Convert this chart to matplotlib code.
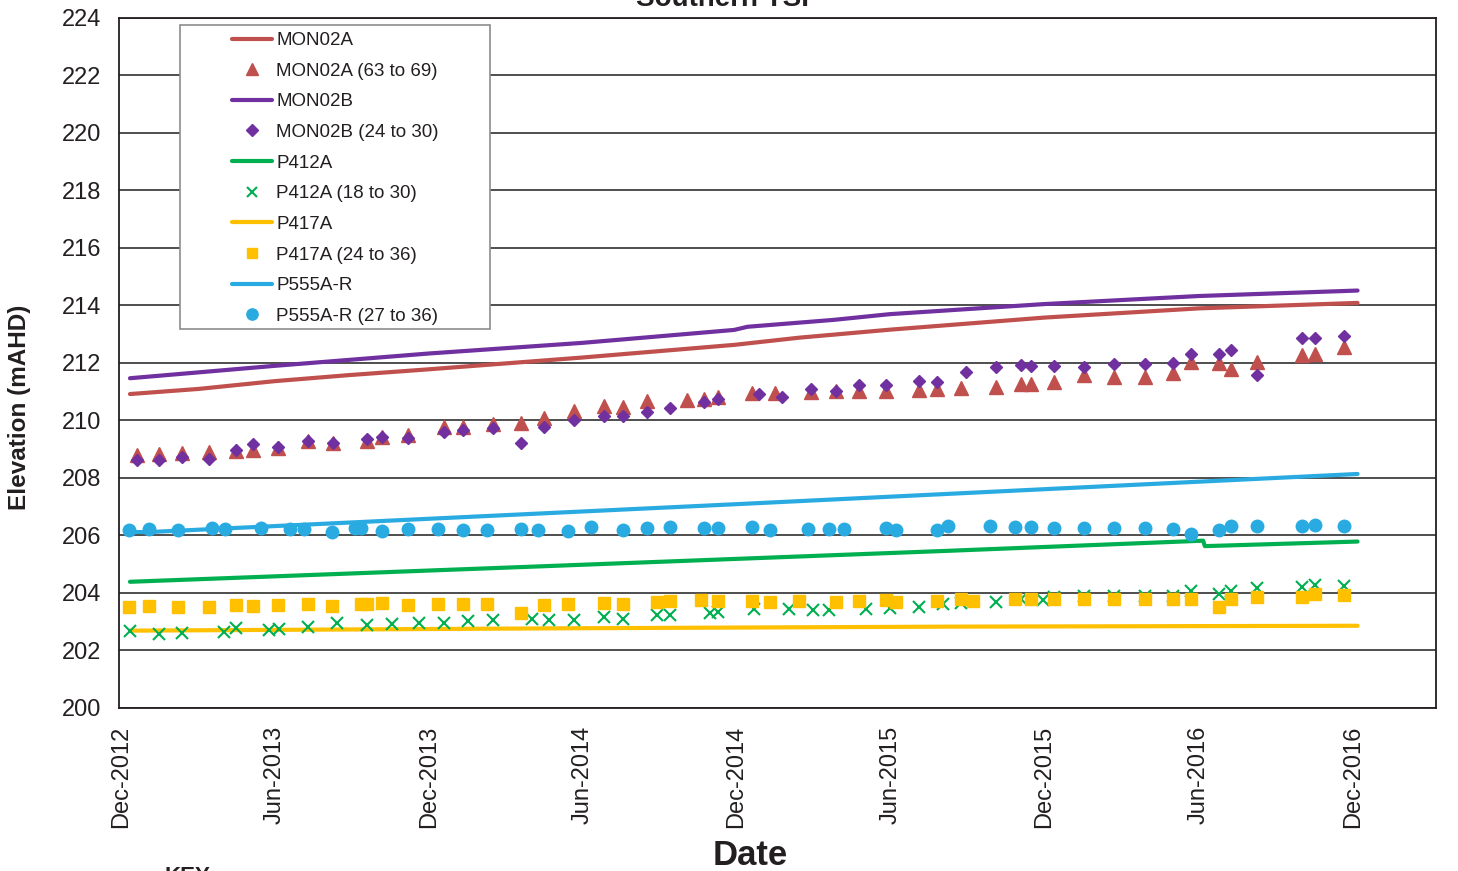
import matplotlib
matplotlib.use("Agg")
import matplotlib.pyplot as plt
import matplotlib.dates as mdates
from matplotlib.patches import Rectangle
import pandas as pd

plt.rcParams["font.family"] = ["Liberation Sans", "DejaVu Sans"]

# ── modelled lines ───────────────────────────────────────────────
mon02a_line_dates = ["2012-12-12", "2013-03-04", "2013-06-02", "2013-08-29", "2013-12-01",
                     "2014-06-01", "2014-11-28", "2015-02-13", "2015-06-01", "2015-12-01",
                     "2016-06-01", "2016-12-06"]
mon02a_line_vals = [210.92, 211.10, 211.37, 211.58, 211.78, 212.19, 212.63, 212.88,
                    213.16, 213.58, 213.90, 214.09]

mon02b_line_dates = ["2012-12-12", "2013-06-01", "2013-12-01", "2014-06-01", "2014-11-28",
                     "2014-12-14", "2015-03-26", "2015-06-01", "2015-12-01", "2016-06-01",
                     "2016-12-06"]
mon02b_line_vals = [211.47, 211.90, 212.33, 212.70, 213.15, 213.26, 213.50, 213.70,
                    214.05, 214.33, 214.52]

p412a_line_dates = ["2012-12-12", "2014-04-24", "2015-08-11", "2016-06-06", "2016-06-08",
                    "2016-12-06"]
p412a_line_vals = [204.39, 204.94, 205.47, 205.82, 205.63, 205.79]

p417a_line_dates = ["2012-12-12", "2014-04-24", "2015-08-11", "2016-12-06"]
p417a_line_vals = [202.69, 202.77, 202.83, 202.86]

p555a_line_dates = ["2012-12-12", "2013-01-04", "2014-12-01", "2016-12-06"]
p555a_line_vals = [206.12, 206.12, 207.09, 208.14]

# ── measured points ──────────────────────────────────────────────
mon02a_dates = ["2012-12-20", "2013-01-15", "2013-02-12", "2013-03-16", "2013-04-17",
                "2013-05-07", "2013-06-06", "2013-07-11", "2013-08-10", "2013-09-19",
                "2013-10-07", "2013-11-07", "2013-12-19", "2014-01-11", "2014-02-15",
                "2014-03-20", "2014-04-17", "2014-05-22", "2014-06-27", "2014-07-19",
                "2014-08-17", "2014-10-03", "2014-10-23", "2014-11-09", "2014-12-19",
                "2015-01-16", "2015-02-27", "2015-03-29", "2015-04-25", "2015-05-27",
                "2015-07-05", "2015-07-26", "2015-08-24", "2015-10-04", "2015-11-03",
                "2015-11-15", "2015-12-12", "2016-01-17", "2016-02-21", "2016-03-29",
                "2016-05-01", "2016-05-23", "2016-06-25", "2016-07-09", "2016-08-09",
                "2016-10-01", "2016-10-17", "2016-11-20"]
mon02a_vals = [208.80, 208.83, 208.88, 208.90, 208.95, 208.96, 209.05, 209.28, 209.21,
               209.28, 209.42, 209.50, 209.76, 209.76, 209.88, 209.90, 210.10, 210.33,
               210.50, 210.46, 210.68, 210.71, 210.76, 210.81, 210.97, 210.97, 210.99,
               211.01, 211.01, 211.04, 211.06, 211.08, 211.14, 211.18, 211.27, 211.28,
               211.34, 211.58, 211.51, 211.51, 211.64, 212.03, 211.99, 211.79, 212.04,
               212.29, 212.32, 212.55]

mon02b_dates = ["2012-12-20", "2013-01-15", "2013-02-12", "2013-03-16", "2013-04-17",
                "2013-05-07", "2013-06-06", "2013-07-11", "2013-08-10", "2013-09-19",
                "2013-10-07", "2013-11-07", "2013-12-19", "2014-01-11", "2014-02-15",
                "2014-03-20", "2014-04-17", "2014-05-22", "2014-06-27", "2014-07-19",
                "2014-08-17", "2014-09-13", "2014-10-23", "2014-11-09", "2014-12-27",
                "2015-01-24", "2015-02-27", "2015-03-29", "2015-04-25", "2015-05-27",
                "2015-07-05", "2015-07-26", "2015-08-30", "2015-10-04", "2015-11-03",
                "2015-11-15", "2015-12-12", "2016-01-17", "2016-02-21", "2016-03-29",
                "2016-05-01", "2016-05-23", "2016-06-25", "2016-07-09", "2016-08-09",
                "2016-10-01", "2016-10-17", "2016-11-20"]
mon02b_vals = [208.63, 208.63, 208.74, 208.65, 208.99, 209.17, 209.09, 209.30, 209.23,
               209.37, 209.42, 209.38, 209.59, 209.67, 209.73, 209.23, 209.78, 210.02,
               210.17, 210.15, 210.30, 210.45, 210.64, 210.76, 210.91, 210.82, 211.09,
               211.03, 211.24, 211.24, 211.39, 211.34, 211.68, 211.86, 211.94, 211.91,
               211.90, 211.86, 211.96, 211.95, 212.01, 212.31, 212.31, 212.46, 211.58,
               212.87, 212.87, 212.94]

p412a_dates = ["2012-12-12", "2013-01-16", "2013-02-12", "2013-04-02", "2013-04-17",
               "2013-05-26", "2013-06-07", "2013-07-11", "2013-08-14", "2013-09-19",
               "2013-10-18", "2013-11-19", "2013-12-19", "2014-01-17", "2014-02-15",
               "2014-04-03", "2014-04-23", "2014-05-22", "2014-06-27", "2014-07-19",
               "2014-08-29", "2014-09-13", "2014-10-30", "2014-11-09", "2014-12-22",
               "2015-02-01", "2015-03-01", "2015-03-21", "2015-05-03", "2015-06-01",
               "2015-07-05", "2015-08-03", "2015-08-24", "2015-10-04", "2015-11-03",
               "2015-11-29", "2015-12-12", "2016-01-17", "2016-02-21", "2016-03-29",
               "2016-05-01", "2016-05-23", "2016-06-25", "2016-07-09", "2016-08-09",
               "2016-10-01", "2016-10-17", "2016-11-20"]
p412a_vals = [202.68, 202.57, 202.62, 202.64, 202.77, 202.72, 202.76, 202.83, 202.96,
              202.89, 202.91, 202.95, 202.95, 203.04, 203.07, 203.08, 203.06, 203.05,
              203.15, 203.08, 203.24, 203.22, 203.29, 203.35, 203.43, 203.43, 203.40,
              203.42, 203.45, 203.49, 203.50, 203.61, 203.64, 203.70, 203.78, 203.76,
              203.86, 203.89, 203.89, 203.89, 203.89, 204.08, 203.96, 204.08, 204.18,
              204.20, 204.28, 204.25]

p417a_dates = ["2012-12-11", "2013-01-04", "2013-02-07", "2013-03-16", "2013-04-17",
               "2013-05-07", "2013-06-06", "2013-07-11", "2013-08-09", "2013-09-12",
               "2013-09-19", "2013-10-07", "2013-11-07", "2013-12-12", "2014-01-11",
               "2014-02-08", "2014-03-20", "2014-04-17", "2014-05-15", "2014-06-27",
               "2014-07-19", "2014-08-29", "2014-09-13", "2014-10-20", "2014-11-09",
               "2014-12-19", "2015-01-10", "2015-02-13", "2015-03-29", "2015-04-25",
               "2015-05-27", "2015-06-08", "2015-07-26", "2015-08-24", "2015-09-07",
               "2015-10-27", "2015-11-15", "2015-12-12", "2016-01-17", "2016-02-21",
               "2016-03-29", "2016-05-01", "2016-05-23", "2016-06-25", "2016-07-09",
               "2016-08-09", "2016-10-01", "2016-10-17", "2016-11-20"]
p417a_vals = [203.52, 203.55, 203.50, 203.50, 203.57, 203.55, 203.57, 203.61, 203.54,
              203.61, 203.61, 203.64, 203.57, 203.61, 203.61, 203.61, 203.29, 203.57,
              203.61, 203.64, 203.61, 203.68, 203.71, 203.74, 203.71, 203.71, 203.68,
              203.71, 203.68, 203.71, 203.74, 203.68, 203.71, 203.78, 203.71, 203.80,
              203.78, 203.78, 203.80, 203.80, 203.80, 203.80, 203.80, 203.50, 203.80,
              203.87, 203.87, 203.95, 203.92]

p555a_dates = ["2012-12-11", "2013-01-04", "2013-02-07", "2013-03-19", "2013-04-04",
               "2013-05-16", "2013-06-20", "2013-07-06", "2013-08-09", "2013-09-05",
               "2013-09-12", "2013-10-07", "2013-11-07", "2013-12-12", "2014-01-11",
               "2014-02-08", "2014-03-20", "2014-04-10", "2014-05-15", "2014-06-12",
               "2014-07-19", "2014-08-17", "2014-09-13", "2014-10-23", "2014-11-09",
               "2014-12-19", "2015-01-10", "2015-02-24", "2015-03-21", "2015-04-07",
               "2015-05-27", "2015-06-08", "2015-07-26", "2015-08-09", "2015-09-27",
               "2015-10-27", "2015-11-15", "2015-12-12", "2016-01-17", "2016-02-21",
               "2016-03-29", "2016-05-01", "2016-05-23", "2016-06-25", "2016-07-09",
               "2016-08-09", "2016-10-01", "2016-10-17", "2016-11-20"]
p555a_vals = [206.19, 206.24, 206.18, 206.25, 206.24, 206.25, 206.23, 206.23, 206.13,
              206.25, 206.25, 206.16, 206.23, 206.22, 206.19, 206.19, 206.21, 206.18,
              206.15, 206.29, 206.19, 206.25, 206.30, 206.25, 206.27, 206.30, 206.18,
              206.24, 206.22, 206.22, 206.26, 206.18, 206.19, 206.33, 206.32, 206.30,
              206.30, 206.26, 206.26, 206.26, 206.26, 206.24, 206.06, 206.19, 206.34,
              206.32, 206.32, 206.38, 206.32]

RED, PURPLE, GREEN, YELLOW, BLUE = "#C0504D", "#7030A0", "#00B050", "#FFC000", "#29ABE2"

W, H = 1458, 871
fig = plt.figure(figsize=(W / 100, H / 100), dpi=100)
ax = fig.add_axes([119 / W, 1 - 708 / H, (1436 - 119) / W, (708 - 18) / H])

d = pd.to_datetime
lw = 3.0
ax.plot(d(mon02a_line_dates), mon02a_line_vals, color=RED, lw=lw, zorder=2,
        solid_capstyle="round", label="MON02A")
ax.plot(d(mon02a_dates), mon02a_vals, ls="none", marker="^", ms=9.5, color=RED, zorder=3,
        label="MON02A (63 to 69)")
ax.plot(d(mon02b_line_dates), mon02b_line_vals, color=PURPLE, lw=lw, zorder=2,
        solid_capstyle="round", label="MON02B")
ax.plot(d(mon02b_dates), mon02b_vals, ls="none", marker="D", ms=6.5, color=PURPLE, zorder=3,
        label="MON02B (24 to 30)")
ax.plot(d(p412a_line_dates), p412a_line_vals, color=GREEN, lw=lw, zorder=2,
        solid_capstyle="round", label="P412A")
ax.plot(d(p412a_dates), p412a_vals, ls="none", marker="x", ms=8, mew=1.5, color=GREEN, zorder=3,
        label="P412A (18 to 30)")
ax.plot(d(p417a_line_dates), p417a_line_vals, color=YELLOW, lw=lw, zorder=2,
        solid_capstyle="round", label="P417A")
ax.plot(d(p417a_dates), p417a_vals, ls="none", marker="s", ms=8, color=YELLOW, zorder=3,
        label="P417A (24 to 36)")
ax.plot(d(p555a_line_dates), p555a_line_vals, color=BLUE, lw=lw, zorder=2,
        solid_capstyle="round", label="P555A-R")
ax.plot(d(p555a_dates), p555a_vals, ls="none", marker="o", ms=9, color=BLUE, zorder=3,
        label="P555A-R (27 to 36)")

ax.set_ylim(200, 224)
ax.set_yticks(range(200, 225, 2))
ax.set_xlim(d("2012-11-29"), d("2017-03-09"))
ax.set_xticks(d(["2012-12-01", "2013-06-01", "2013-12-01", "2014-06-01", "2014-12-01",
                 "2015-06-01", "2015-12-01", "2016-06-01", "2016-12-01"]))
ax.xaxis.set_major_formatter(mdates.DateFormatter("%b-%Y"))
ax.tick_params(axis="both", length=0, labelsize=17, colors="#231F20")
ax.tick_params(axis="y", pad=13)
ax.tick_params(axis="x", pad=13, labelrotation=90)
ax.yaxis.grid(True, color="#404040", lw=1.3)
ax.set_axisbelow(True)
for s in ax.spines.values():
    s.set_color("#231F20")
    s.set_linewidth(1.3)

# legend: white box drawn by hand, entries without frame
box = Rectangle((180 / W, 1 - 329 / H), 310 / W, 304 / H, transform=fig.transFigure,
                facecolor="white", edgecolor="#8C8C8C", lw=1.2, zorder=5)
ax.add_artist(box)
box.set_clip_on(False)
leg = ax.legend(loc="upper left", bbox_to_anchor=(232 / W, 1 - 32 / H),
                bbox_transform=fig.transFigure, frameon=False, fontsize=13.5,
                borderpad=0, borderaxespad=0, handlelength=2.15, handletextpad=0.2,
                labelspacing=0.72, markerscale=0.9)
leg.set_zorder(6)
for t in leg.get_texts():
    t.set_color("#231F20")

fig.text(20 / W, 1 - 407 / H, "Elevation (mAHD)", rotation=90, ha="center", va="center",
         fontsize=17.5, fontweight="bold", color="#231F20")
fig.text(750 / W, 1 - 855 / H, "Date", ha="center", va="center", fontsize=25,
         fontweight="bold", color="#231F20",
         family=["Liberation Sans Narrow", "Liberation Sans"])
# title and key sit partly outside the crop, as in the source page
fig.text(727 / W, 1 - 6 / H, "Southern TSF", ha="center", va="baseline", fontsize=20,
         fontweight="bold", color="#231F20")
fig.text(165 / W, 1 - 866 / H, "KEY", ha="left", va="top", fontsize=16,
         fontweight="bold", color="#231F20")

fig.savefig("out.png", dpi=100)
